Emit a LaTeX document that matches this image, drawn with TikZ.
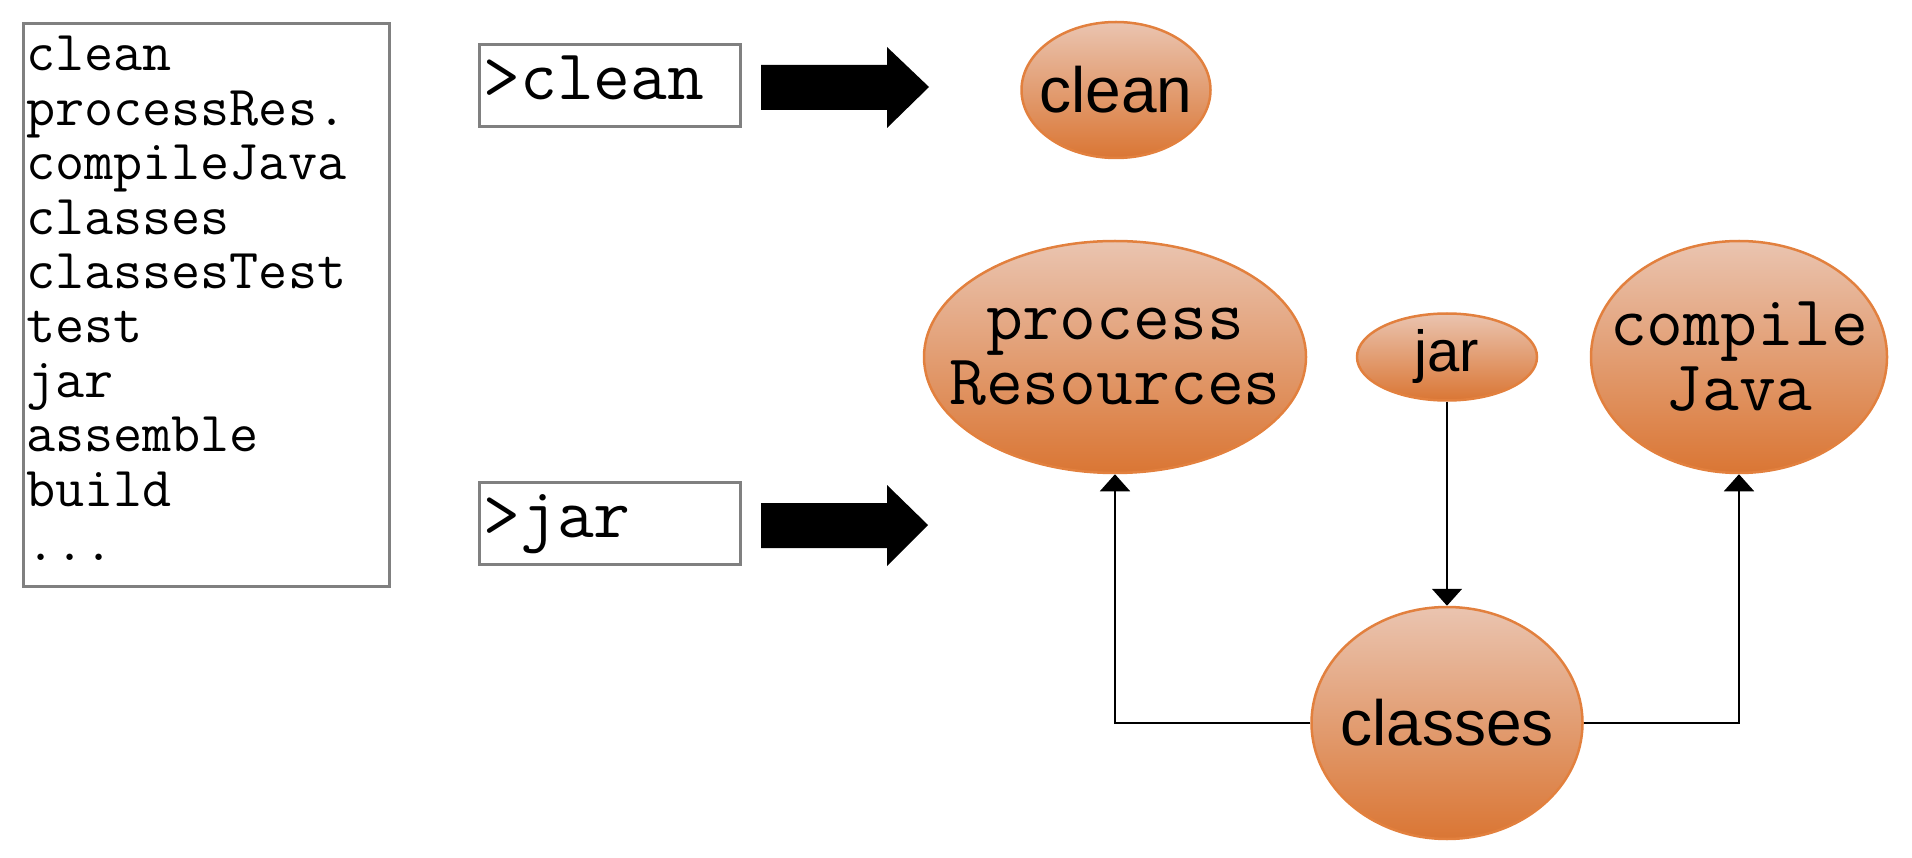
\documentclass[tikz,border=0pt]{standalone}
\usepackage{fontspec}
\setmainfont{Liberation Sans}
\usetikzlibrary{shapes.geometric,arrows.meta}
\definecolor{ovtop}{RGB}{234,196,176}
\definecolor{ovbot}{RGB}{218,118,52}
\definecolor{ovline}{RGB}{226,128,62}
\definecolor{boxgray}{RGB}{128,128,128}
\begin{document}
\begin{tikzpicture}[x=1pt,y=-1pt,
  task/.style={ellipse, draw=ovline, line width=2.5pt, top color=ovtop, bottom color=ovbot, inner sep=0pt},
  cmdbox/.style={draw=boxgray, line width=3pt, fill=white, minimum width=261pt, minimum height=82pt,
    inner xsep=4pt, inner ysep=0pt, text width=253pt, align=left, text height=40pt, text depth=12pt,
    font=\ttfamily\fontsize{71.5}{72}\selectfont},
  conn/.style={line width=1.8pt, -{Triangle[width=30pt,length=17pt]}},
  sanslbl/.style={font=\fontsize{64}{70}\selectfont, inner sep=0pt},
  jarlbl/.style={font=\fontsize{58}{64}\selectfont, inner sep=0pt},
  monolbl/.style={font=\ttfamily\fontsize{71.5}{65}\selectfont, align=center, inner sep=0pt},
  blockarrow/.style={fill=black}]
\useasboundingbox (0,0) rectangle (1912,858);

% task list
\node (list) [draw=boxgray, line width=3pt, fill=white, minimum width=366pt, minimum height=563pt,
  inner sep=0pt, anchor=north west] at (22,22) {};
\node (listtxt) [anchor=base west, inner sep=0pt, font=\ttfamily\fontsize{56.5}{54.4}\selectfont] at (26,71)
  {\vtop{\hbox{clean}\hbox{processRes.}\hbox{compileJava}\hbox{classes}\hbox{classesTest}%
  \hbox{test}\hbox{jar}\hbox{assemble}\hbox{build}\hbox{...}}};

% commands
\node (cmdclean) [cmdbox] at (610,86) {>clean};
\node (cmdjar) [cmdbox] at (610,523.5) {>jar};

% block arrows
\fill[blockarrow] (761,65) -- (887,65) -- (887,47) -- (929,87) -- (887,128) -- (887,110) -- (761,110) -- cycle;
\fill[blockarrow] (761,503) -- (887,503) -- (887,485) -- (928,525) -- (887,566) -- (887,548) -- (761,548) -- cycle;

% tasks
\node (clean) [task, minimum width=189pt, minimum height=136pt,
  label={[sanslbl]center:clean}] at (1116,90) {};
\node (proc) [task, minimum width=382pt, minimum height=232pt,
  label={[monolbl]center:process\\Resources}] at (1115,357) {};
\node (jar) [task, minimum width=180pt, minimum height=87pt,
  label={[jarlbl]center:jar}] at (1447,357) {};
\node (comp) [task, minimum width=296pt, minimum height=232pt,
  label={[monolbl]center:compile\\Java}] at (1739,357) {};
\node (classes) [task, minimum width=271pt, minimum height=232pt,
  label={[sanslbl]center:classes}] at (1447,723) {};

% connectors
\draw[conn] (jar.south) -- (classes.north);
\draw[conn] (classes.west) -| (proc.south);
\draw[conn] (classes.east) -| (comp.south);
\end{tikzpicture}
\end{document}
